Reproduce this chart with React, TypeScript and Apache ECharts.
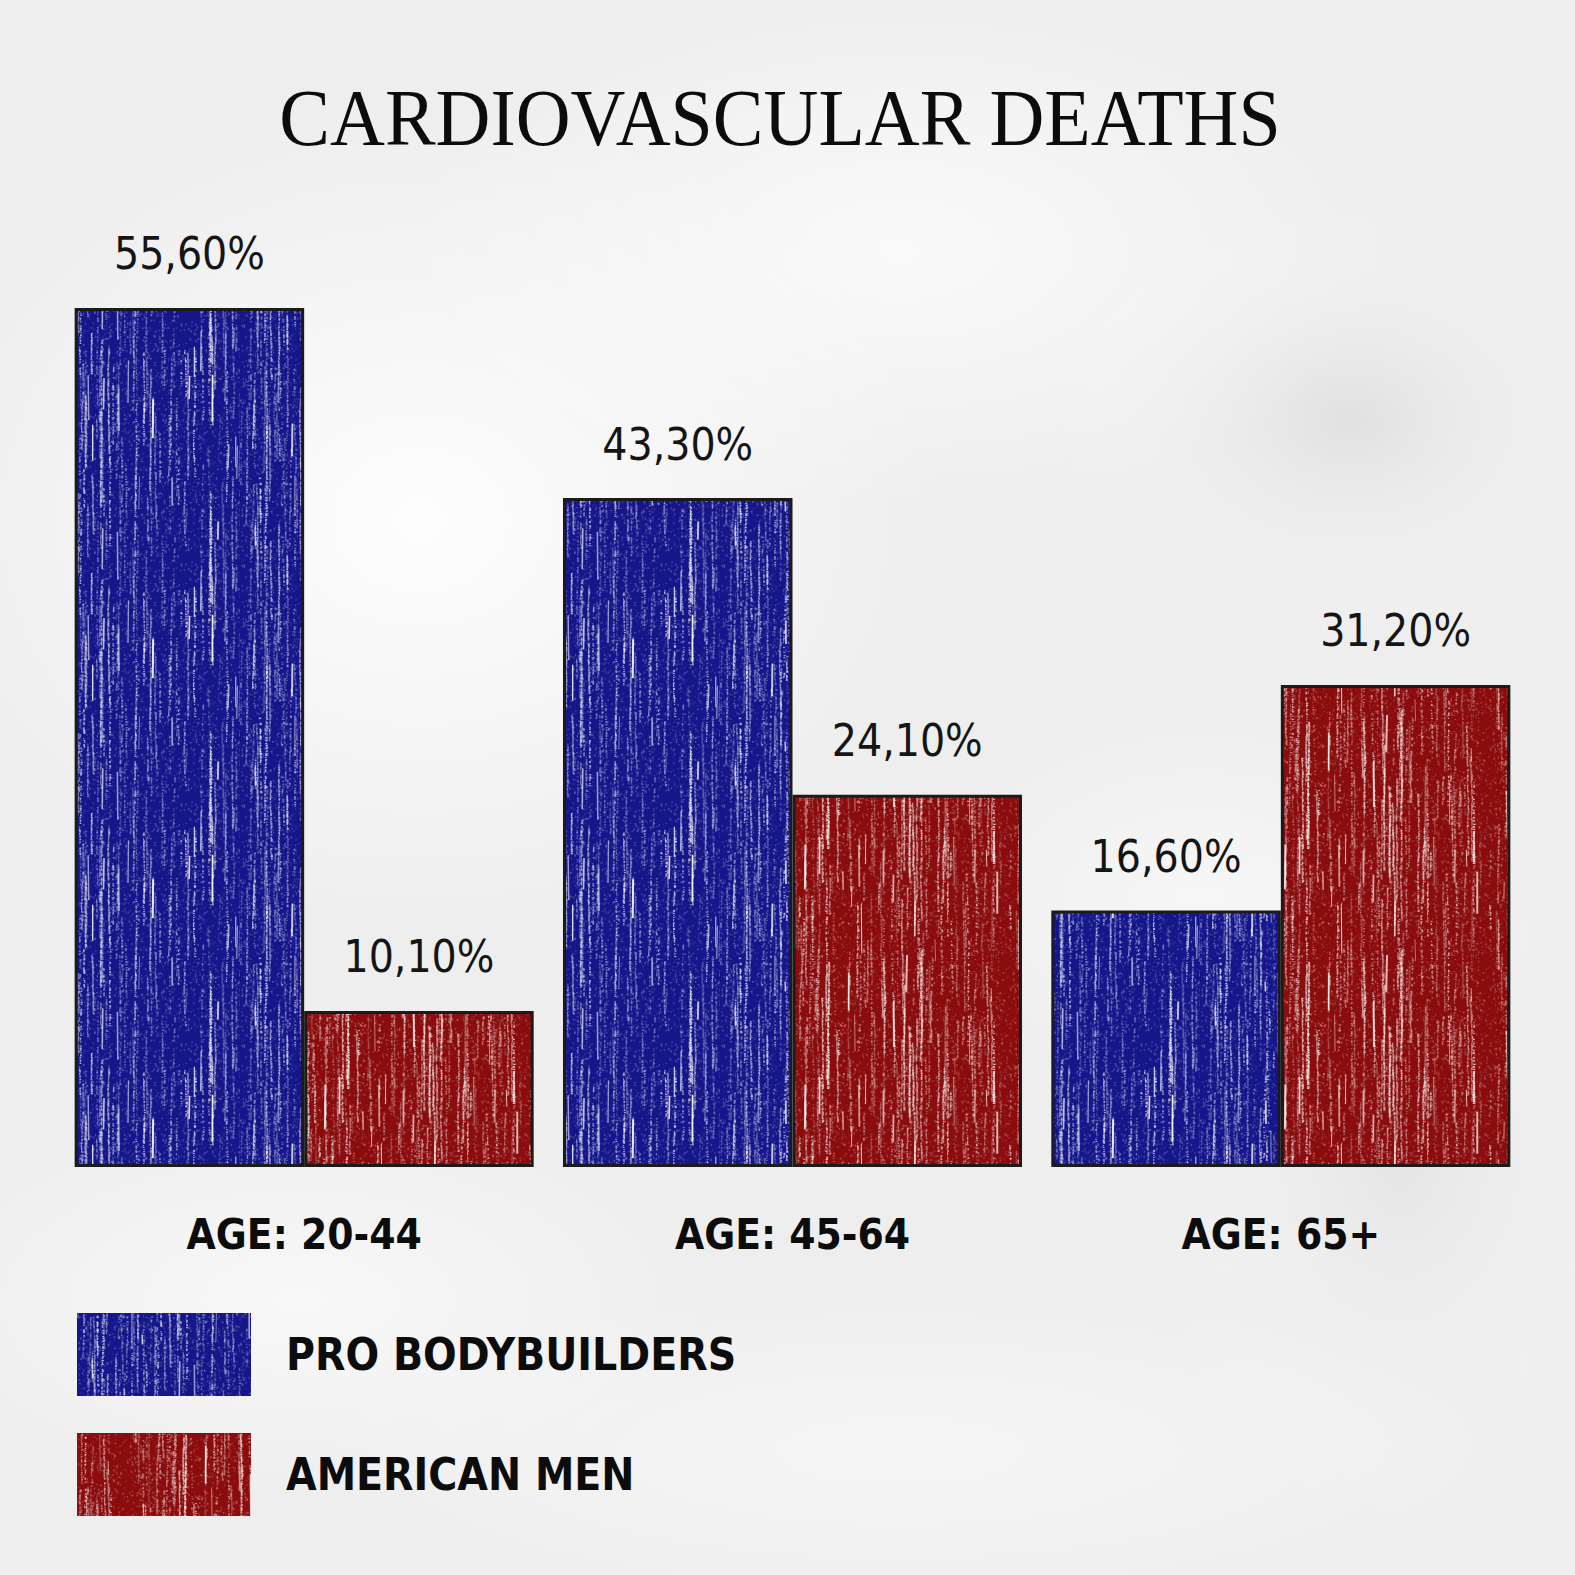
import React, { useEffect, useRef } from "react";
import * as echarts from "echarts";

const categories = ["AGE: 20-44", "AGE: 45-64", "AGE: 65+"];
const proBodybuilders = [55.6, 43.3, 16.6];
const americanMen = [10.1, 24.1, 31.2];
const seriesNames = ["PRO BODYBUILDERS", "AMERICAN MEN"];
const titleText = "CARDIOVASCULAR DEATHS";

const BLUE = "#15168a";
const RED = "#8a0c0c";

const condensed = "'Liberation Sans Narrow', 'DejaVu Sans Condensed', 'Roboto Condensed', Roboto, sans-serif";

// Pencil-like fill: base colour crossed by grainy pale vertical streaks.
function makeTexture(base: string, seed: number): HTMLCanvasElement {
  const w = 240;
  const h = 240;
  const c = document.createElement("canvas");
  c.width = w;
  c.height = h;
  const ctx = c.getContext("2d")!;
  ctx.fillStyle = base;
  ctx.fillRect(0, 0, w, h);
  let s = seed >>> 0;
  const rnd = () => {
    s = (s * 1664525 + 1013904223) >>> 0;
    return s / 4294967296;
  };
  // loose grain everywhere
  for (let i = 0; i < 3200; i++) {
    ctx.fillStyle = `rgba(255,255,255,${0.06 + rnd() * 0.22})`;
    ctx.fillRect(rnd() * w, rnd() * h, 1 + rnd(), 1 + rnd() * 1.5);
  }
  // grainy streaks made of dots along slightly wandering vertical lines
  for (let i = 0; i < 150; i++) {
    let x = rnd() * w;
    const y0 = rnd() * h;
    const len = 15 + rnd() * 120;
    const density = 0.35 + rnd() * 0.6;
    const a = 0.25 + rnd() * 0.55;
    for (let y = 0; y < len; y += 1) {
      x += (rnd() - 0.5) * 0.35;
      if (rnd() < density) {
        const yy = (y0 + y) % h;
        const xx = ((x % w) + w) % w;
        ctx.fillStyle = `rgba(255,255,255,${a * (0.5 + rnd() * 0.5)})`;
        ctx.fillRect(xx, yy, 1 + rnd() * 1.2, 1.2);
      }
    }
  }
  // a few bright scratch lines
  for (let i = 0; i < 25; i++) {
    const x = rnd() * w;
    const y = rnd() * h;
    const len = 10 + rnd() * 40;
    ctx.strokeStyle = `rgba(255,255,255,${0.5 + rnd() * 0.4})`;
    ctx.lineWidth = 0.8 + rnd() * 1.2;
    for (const off of [0, -h]) {
      ctx.beginPath();
      ctx.moveTo(x, y + off);
      ctx.lineTo(x + (rnd() - 0.5) * 1.5, y + len + off);
      ctx.stroke();
    }
  }
  return c;
}

function blob(cx: number, cy: number, rx: number, ry: number, color: string) {
  return {
    type: "ellipse",
    silent: true,
    z: -10,
    shape: { cx, cy, rx, ry },
    style: {
      fill: new echarts.graphic.RadialGradient(0.5, 0.5, 0.5, [
        { offset: 0, color },
        { offset: 1, color: "rgba(255,255,255,0)" },
      ]),
    },
  };
}

export default function App() {
  const ref = useRef<HTMLDivElement>(null);

  useEffect(() => {
    document.body.style.margin = "0";
    const chart = echarts.init(ref.current!, null, { renderer: "svg" });
    const bluePattern = { image: makeTexture(BLUE, 12345), repeat: "repeat" };
    const redPattern = { image: makeTexture(RED, 67890), repeat: "repeat" };

    const valueLabel = {
      show: true,
      position: "top",
      distance: 32,
      color: "#151515",
      fontFamily: condensed,
      fontSize: 44,
      formatter: (p: any) => p.value.toFixed(2).replace(".", ",") + "%",
    };

    chart.setOption({
      animation: false,
      backgroundColor: "#eeeeee",
      graphic: [
        blob(420, 520, 520, 420, "rgba(255,255,255,0.9)"),
        blob(900, 250, 500, 260, "rgba(255,255,255,0.7)"),
        blob(1350, 420, 300, 220, "rgba(215,215,215,0.6)"),
        blob(1400, 1150, 260, 380, "rgba(222,222,222,0.6)"),
        blob(300, 1300, 420, 200, "rgba(255,255,255,0.6)"),
        blob(900, 1450, 600, 160, "rgba(250,250,250,0.6)"),
        blob(1200, 900, 300, 200, "rgba(255,255,255,0.5)"),
        {
          type: "text",
          x: 780,
          y: 118,
          scaleX: 0.95,
          style: {
            x: 0,
            y: 0,
            text: titleText,
            align: "center",
            verticalAlign: "middle",
            fill: "#0c0c0c",
            font: "80px 'Liberation Serif', 'DejaVu Serif', serif",
          },
        },
      ],
      grid: { left: 60, right: 50, top: 240, bottom: 408 },
      legend: {
        orient: "vertical",
        left: 72,
        top: 1308,
        itemWidth: 174,
        itemHeight: 83,
        itemGap: 37,
        icon: "rect",
        itemStyle: { borderWidth: 0 },
        textStyle: {
          color: "#0c0c0c",
          fontFamily: condensed,
          fontWeight: "bold",
          fontSize: 44,
          padding: [0, 0, 0, 30],
        },
        data: seriesNames,
      },
      xAxis: {
        type: "category",
        data: categories,
        axisLine: { show: false },
        axisTick: { show: false },
        axisLabel: {
          color: "#0c0c0c",
          fontFamily: condensed,
          fontWeight: "bold",
          fontSize: 42,
          margin: 46,
        },
      },
      yAxis: {
        type: "value",
        min: 0,
        max: 60,
        show: false,
        splitLine: { show: false },
      },
      series: [
        {
          name: seriesNames[0],
          type: "bar",
          data: proBodybuilders,
          barGap: "0%",
          barCategoryGap: "6%",
          itemStyle: { color: bluePattern, borderColor: "#1b1b1b", borderWidth: 3 },
          label: valueLabel,
        },
        {
          name: seriesNames[1],
          type: "bar",
          data: americanMen,
          itemStyle: { color: redPattern, borderColor: "#1b1b1b", borderWidth: 3 },
          label: valueLabel,
        },
      ],
    });
    return () => chart.dispose();
  }, []);

  return <div ref={ref} style={{ width: 1575, height: 1575 }} />;
}
